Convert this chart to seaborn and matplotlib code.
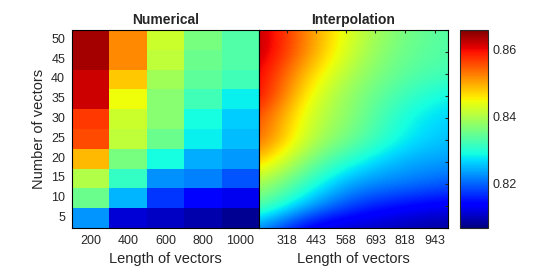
import numpy as np
import pandas as pd
import seaborn as sns
import matplotlib
matplotlib.use("Agg")
import matplotlib.pyplot as plt

# vector length (columns) and number of vectors (rows)
lengths = [200, 400, 600, 800, 1000]
counts = [5, 10, 15, 20, 25, 30, 35, 40, 45, 50]

# values per length column, ordered by number of vectors 5 -> 50
col_200 = [0.8226, 0.835, 0.840, 0.849, 0.856, 0.857, 0.862, 0.862, 0.864, 0.864]
col_400 = [0.811, 0.8245, 0.831, 0.836, 0.841, 0.842, 0.8445, 0.848, 0.852, 0.852]
col_600 = [0.810, 0.817, 0.8225, 0.829, 0.835, 0.837, 0.837, 0.839, 0.841, 0.842]
col_800 = [0.809, 0.814, 0.8215, 0.824, 0.828, 0.829, 0.832, 0.834, 0.835, 0.836]
col_1000 = [0.8075, 0.8125, 0.819, 0.823, 0.825, 0.826, 0.828, 0.832, 0.833, 0.833]

interp_ticks = [318, 443, 568, 693, 818, 943]
vmin, vmax = 0.8065, 0.866

df = pd.DataFrame({200: col_200, 400: col_400, 600: col_600,
                   800: col_800, 1000: col_1000}, index=counts)

sns.set_style("white")
plt.rcParams['font.family'] = ['Liberation Sans', 'DejaVu Sans']

fig = plt.figure(figsize=(5.6, 2.79), dpi=100)
ax1 = fig.add_axes([0.1286, 0.1828, 0.334, 0.7097])
ax2 = fig.add_axes([0.4625, 0.1828, 0.3375, 0.7097])
cax = fig.add_axes([0.8214, 0.1828, 0.05, 0.7097])

# --- left: raw grid ---
sns.heatmap(df.iloc[::-1], ax=ax1, cmap='jet', vmin=vmin, vmax=vmax, cbar=False)
ax1.set_title('Numerical', fontsize=10, fontweight='bold', pad=4)
ax1.set_xlabel('Length of vectors', fontsize=10.5, color='#262626')
ax1.set_ylabel('Number of vectors', fontsize=10.5, color='#262626')
ax1.tick_params(axis='both', labelsize=9, colors='#262626', direction='in',
                length=2.5, top=True, pad=5)
ax1.set_yticklabels([str(c) for c in counts[::-1]], rotation=0)
ax1.set_xticklabels([str(l) for l in lengths], rotation=0)

# --- right: smooth interpolation of the same grid ---
grid = df.values
dx = (lengths[1] - lengths[0]) / 2
dy = (counts[1] - counts[0]) / 2
im = ax2.imshow(grid, origin='lower', cmap='jet', vmin=vmin, vmax=vmax,
                extent=[lengths[0] - dx, lengths[-1] + dx, counts[0] - dy, counts[-1] + dy],
                aspect='auto', interpolation='bicubic', interpolation_stage='data')
ax2.set_xlim(lengths[0], lengths[-1])
ax2.set_ylim(counts[0], counts[-1])
ax2.set_xticks(interp_ticks)
ax2.set_yticks(counts)
ax2.set_yticklabels([])
ax2.set_title('Interpolation', fontsize=10, fontweight='bold', pad=4)
ax2.set_xlabel('Length of vectors', fontsize=10.5, color='#262626')
ax2.tick_params(axis='both', labelsize=9, colors='#262626', direction='in',
                length=2.5, top=True, right=True, pad=5)

for ax in (ax1, ax2):
    for s in ax.spines.values():
        s.set_visible(True)
        s.set_color('black')
        s.set_linewidth(0.8)

cb = fig.colorbar(im, cax=cax)
cb.set_ticks([0.82, 0.84, 0.86])
cb.ax.tick_params(labelsize=9, colors='#262626', direction='in', length=2.5)
cb.outline.set_linewidth(0.8)

fig.savefig('out.png', dpi=100)
